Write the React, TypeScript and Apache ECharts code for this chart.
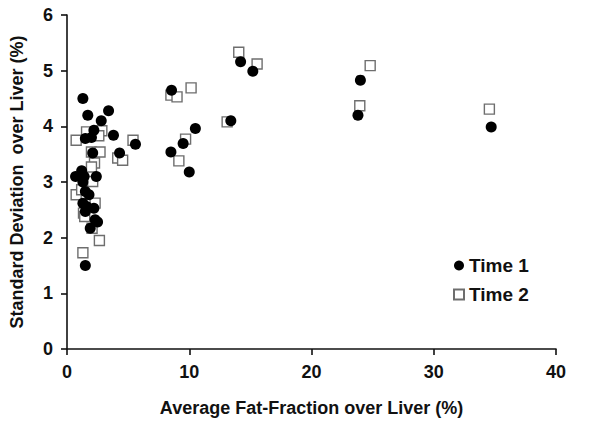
import React, { useEffect, useRef } from "react";
import * as echarts from "echarts";

const time1: [number, number][] = [
  [1.3, 4.5], [3.4, 4.28], [1.7, 4.2], [2.8, 4.1], [2.2, 3.93], [3.8, 3.84],
  [1.5, 3.78], [2.0, 3.8], [5.6, 3.68], [4.3, 3.52], [2.1, 3.52], [0.7, 3.1],
  [1.2, 3.2], [1.4, 3.1], [2.4, 3.1], [1.3, 3.0], [1.5, 2.83], [1.8, 2.77],
  [1.3, 2.62], [1.6, 2.56], [2.2, 2.53], [1.5, 2.47], [2.3, 2.32], [2.5, 2.28],
  [1.9, 2.17], [1.5, 1.5],
  [14.2, 5.16], [15.2, 4.99], [8.55, 4.65], [13.4, 4.1], [10.5, 3.96], [9.5, 3.69],
  [8.5, 3.54], [10.0, 3.18], [24.0, 4.83], [23.8, 4.2], [34.7, 3.99],
];

const time2: [number, number][] = [
  [1.6, 3.9], [2.85, 3.92], [2.6, 3.83], [0.75, 3.75], [5.4, 3.75], [2.0, 3.54],
  [2.7, 3.54], [4.15, 3.43], [4.55, 3.39], [2.25, 3.34], [2.0, 3.27], [2.1, 3.01],
  [0.75, 2.77], [1.2, 2.86], [2.3, 2.62], [1.35, 2.44], [1.45, 2.38], [2.05, 2.17],
  [2.65, 1.95], [1.3, 1.73],
  [14.05, 5.33], [15.55, 5.12], [10.15, 4.69], [8.5, 4.56], [9.0, 4.53], [13.1, 4.08],
  [9.7, 3.77], [9.15, 3.38], [24.8, 5.09], [23.95, 4.37], [34.55, 4.31],
];

const seriesNames = ["Time 1", "Time 2"];
const xTitle = "Average Fat-Fraction over Liver (%)";
const yTitle = "Standard Deviation  over Liver (%)";

const FONT = "Liberation Sans, Arial, sans-serif";
const TXT = "#111";

export default function App() {
  const ref = useRef<HTMLDivElement>(null);
  useEffect(() => {
    if (!ref.current) return;
    const chart = echarts.init(ref.current, undefined, { renderer: "svg" });
    chart.setOption({
      animation: false,
      backgroundColor: "#fff",
      grid: { left: 65, right: 44, top: 15, bottom: 79 },
      legend: {
        orient: "vertical",
        left: 448,
        top: 251,
        itemGap: 10,
        itemWidth: 10,
        itemHeight: 10,
        data: seriesNames,
        textStyle: { fontFamily: FONT, fontWeight: "bold", fontSize: 19, color: TXT },
      },
      xAxis: {
        type: "value",
        min: 0,
        max: 40,
        interval: 10,
        name: xTitle,
        nameLocation: "middle",
        nameGap: 50,
        nameTextStyle: { fontFamily: FONT, fontWeight: "bold", fontSize: 18, color: TXT },
        axisLine: { show: true, lineStyle: { color: "#111", width: 1.6 } },
        axisTick: { show: true, inside: false, length: 6, lineStyle: { color: "#111", width: 1.6 } },
        axisLabel: { fontFamily: FONT, fontWeight: "bold", fontSize: 18, color: TXT, margin: 14 },
        splitLine: { show: false },
      },
      yAxis: {
        type: "value",
        min: 0,
        max: 6,
        interval: 1,
        name: yTitle,
        nameLocation: "middle",
        nameGap: 41,
        nameTextStyle: { fontFamily: FONT, fontWeight: "bold", fontSize: 18, color: TXT },
        axisLine: { show: true, lineStyle: { color: "#111", width: 1.6 } },
        axisTick: { show: true, inside: false, length: 6, lineStyle: { color: "#111", width: 1.6 } },
        axisLabel: { fontFamily: FONT, fontWeight: "bold", fontSize: 18, color: TXT, margin: 14 },
        splitLine: { show: false },
      },
      series: [
        {
          name: seriesNames[0],
          type: "scatter",
          data: time1,
          symbol: "circle",
          symbolSize: 11,
          z: 3,
          itemStyle: { color: "#000", opacity: 1 },
        },
        {
          name: seriesNames[1],
          type: "scatter",
          data: time2,
          symbol: "rect",
          symbolSize: 10,
          z: 2,
          itemStyle: { color: "#fff", borderColor: "#6e6e6e", borderWidth: 1.4, opacity: 1 },
        },
      ],
    });
    return () => chart.dispose();
  }, []);
  return <div ref={ref} style={{ width: 600, height: 428, margin: -8 }} />;
}
